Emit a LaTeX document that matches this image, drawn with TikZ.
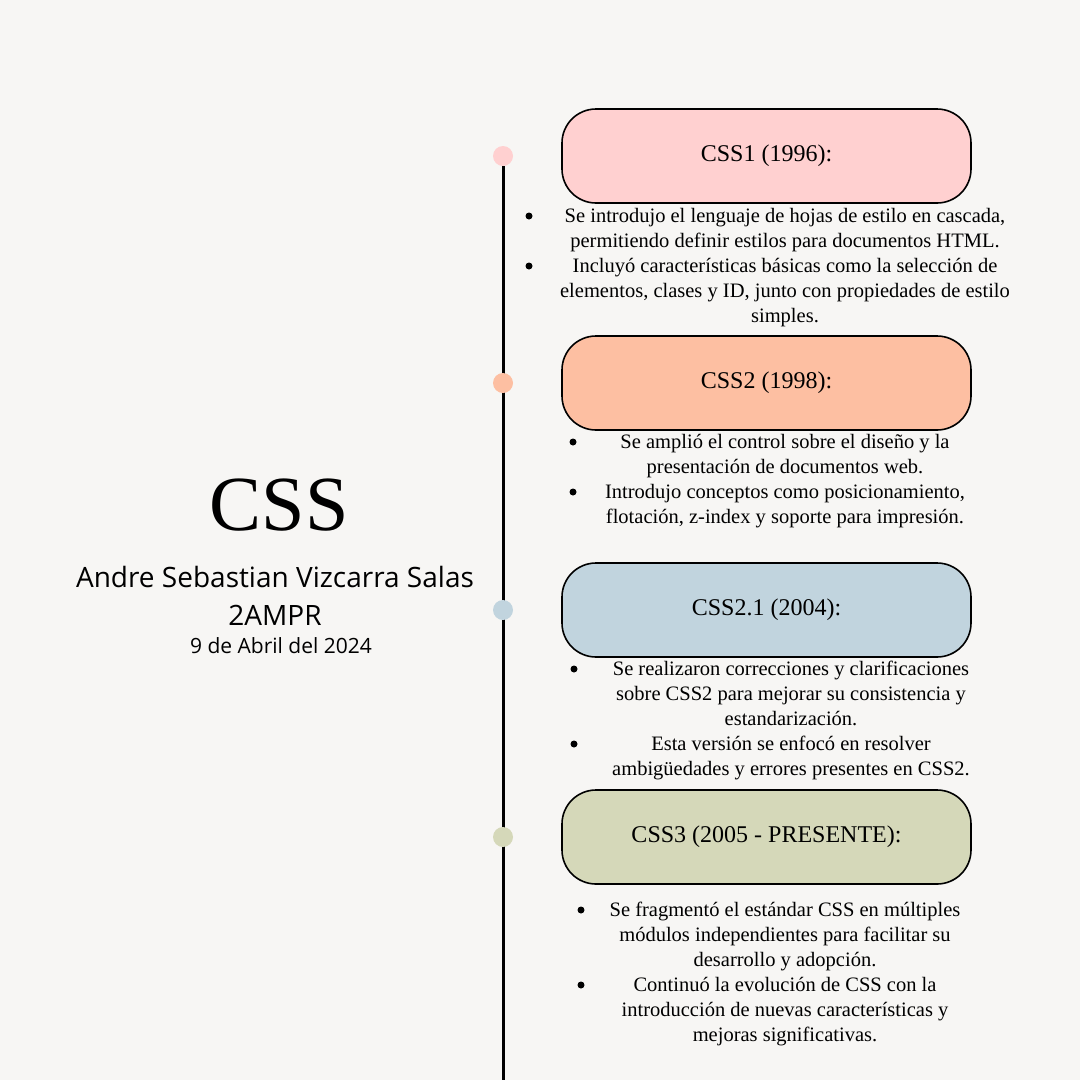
\documentclass[tikz,border=0pt]{standalone}
\usepackage{fontspec}
\setmainfont{Liberation Serif}
\newfontfamily\namefont{Open Sans}
\usetikzlibrary{positioning}
\definecolor{bgpaper}{HTML}{F7F6F4}
\definecolor{pinkfill}{HTML}{FFD0D0}
\definecolor{peachfill}{HTML}{FDBFA2}
\definecolor{bluefill}{HTML}{C1D4DE}
\definecolor{olivefill}{HTML}{D5D8B9}

\begin{document}
\begin{tikzpicture}[x=1pt, y=-1pt,
    eraBox/.style={draw=black, line width=1.6pt, rounded corners=34pt,
      minimum width=409pt, minimum height=94pt,
      font=\fontsize{24}{28}\selectfont},
    eraDot/.style={circle, minimum size=20pt, inner sep=0pt},
    itemText/.style={anchor=north, align=center, inner sep=0pt,
      font=\fontsize{20.5}{25}\selectfont},
    bulletMark/.style={circle, fill=black, minimum size=7pt, inner sep=0pt}]
    % Background
    \useasboundingbox[fill=bgpaper] (0,0) rectangle (1080,1080);

    % Title block
    \node[font=\fontsize{78}{84}\selectfont, anchor=base] (title) at (279,530) {CSS};
    \node[font=\namefont\fontsize{28}{32}\selectfont, anchor=base] (author) at (275,587) {Andre Sebastian Vizcarra Salas};
    \node[font=\namefont\fontsize{28}{32}\selectfont, anchor=base] (group) at (275,625) {2AMPR};
    \node[font=\namefont\fontsize{21}{24}\selectfont, anchor=base] (date) at (281,653) {9 de Abril del 2024};

    % Timeline dots and axis
    \node[eraDot, fill=pinkfill] (dot1) at (503,156) {};
    \coordinate (lineEnd) at (503,1080);
    \draw[line width=3pt] (dot1.south) -- (lineEnd);
    \node[eraDot, fill=peachfill] (dot2) at (503,383) {};
    \node[eraDot, fill=bluefill] (dot3) at (503,610) {};
    \node[eraDot, fill=olivefill] (dot4) at (503,837) {};

    % Era boxes
    \node[eraBox, fill=pinkfill] (css1) at (766.5,156) {CSS1 (1996):};
    \node[eraBox, fill=peachfill] (css2) at (766.5,383) {CSS2 (1998):};
    \node[eraBox, fill=bluefill] (css21) at (766.5,610) {CSS2.1 (2004):};
    \node[eraBox, fill=olivefill] (css3) at (766.5,837) {CSS3 (2005 - PRESENTE):};

    % CSS1 notes
    \node[itemText] (css1a) at (785,208) {Se introdujo el lenguaje de hojas de estilo en cascada,\\permitiendo definir estilos para documentos HTML.};
    \node[itemText] (css1b) at (785,258) {Incluyó características básicas como la selección de\\elementos, clases y ID, junto con propiedades de estilo\\simples.};
    \node[bulletMark] (b1a) at (529,216) {};
    \node[bulletMark] (b1b) at (529,266) {};

    % CSS2 notes
    \node[itemText] (css2a) at (785,434) {Se amplió el control sobre el diseño y la\\presentación de documentos web.};
    \node[itemText] (css2b) at (785,484) {Introdujo conceptos como posicionamiento,\\flotación, z-index y soporte para impresión.};
    \node[bulletMark] (b2a) at (573,442) {};
    \node[bulletMark] (b2b) at (573,492) {};

    % CSS2.1 notes
    \node[itemText] (css21a) at (791,661) {Se realizaron correcciones y clarificaciones\\sobre CSS2 para mejorar su consistencia y\\estandarización.};
    \node[itemText] (css21b) at (791,736) {Esta versión se enfocó en resolver\\ambigüedades y errores presentes en CSS2.};
    \node[bulletMark] (b3a) at (574,669) {};
    \node[bulletMark] (b3b) at (574,744) {};

    % CSS3 notes
    \node[itemText] (css3a) at (785,902) {Se fragmentó el estándar CSS en múltiples\\módulos independientes para facilitar su\\desarrollo y adopción.};
    \node[itemText] (css3b) at (785,977) {Continuó la evolución de CSS con la\\introducción de nuevas características y\\mejoras significativas.};
    \node[bulletMark] (b4a) at (581,910) {};
    \node[bulletMark] (b4b) at (581,985) {};
\end{tikzpicture}
\end{document}
